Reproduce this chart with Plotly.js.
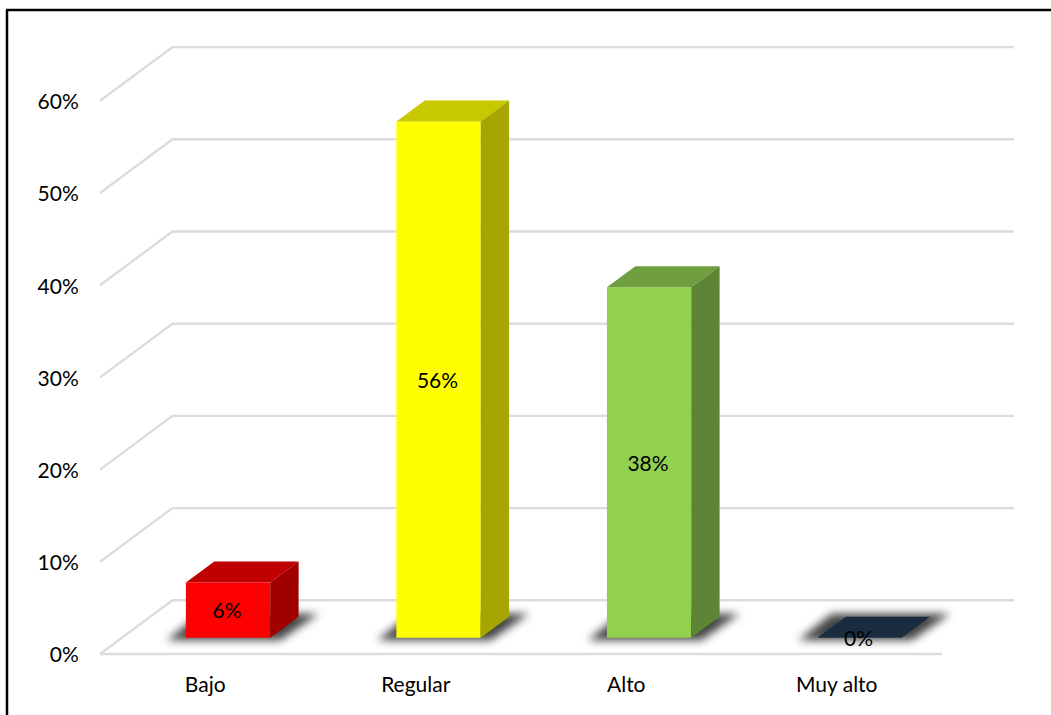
<!DOCTYPE html>
<html>
<head>
<meta charset="utf-8">
<script src="https://cdn.plot.ly/plotly-3.0.1.min.js"></script>
<style>html,body{margin:0;padding:0;background:#fff}</style>
</head>
<body>
<div id="chart" style="width:1051px;height:715px"></div>
<script>
const categories = ['Bajo', 'Regular', 'Alto', 'Muy alto'];
const values = [6, 56, 38, 0];
const valueLabels = ['6%', '56%', '38%', '0%'];
const frontColors = ['#FF0000', '#FFFF00', '#92D050', '#1A2C40'];
const topColors = ['#C00000', '#C8C800', '#6F9E3E', '#1A2C40'];
const sideColors = ['#A00000', '#A6A600', '#5E8535', '#1A2C40'];
const gridValues = [0, 10, 20, 30, 40, 50, 60];
const gridLabels = ['0%', '10%', '20%', '30%', '40%', '50%', '60%'];

// axis geometry (pixels per data unit); the plot area has a small pad so line ends are not clipped
const W = 1051, H = 715, X0 = 100, R = 1016, T = 40, Y0 = 654, PAD = 10;
const L = X0 - PAD, B = Y0 + PAD;
const PX = 210.5, PY = 9.22;
const dx = v => v / PX, dy = v => v / PY;
const centers = categories.map((_, i) => i + 0.5);

const wallX = dx(72.5), wallY = dy(53.7);
const barShiftX = dx(22.8), barShiftY = dy(16.3);
const barW = 84.3 / PX, depthX = dx(28.4), depthY = dy(21);
const nCat = categories.length;
const xEnd = (1014 - X0) / PX;
const xRange = [-dx(PAD), (R - X0) / PX], yRange = [-dy(PAD), (Y0 - T) / PY];

const traces = [];
const none = {hoverinfo: 'skip', showlegend: false};
const grey = {color: '#DCDCDC', width: 2.4};

// floor front edge
traces.push({x: [0, nCat], y: [0, 0], mode: 'lines', line: grey, ...none});
// grid lines: side wall + back wall
gridValues.forEach(g => {
  traces.push({x: [0, wallX, xEnd], y: [g, g + wallY, g + wallY], mode: 'lines', line: grey, ...none});
});
const shadowStart = traces.length;
// soft floor shadows
centers.forEach(c => {
  const xl = c + barShiftX - barW / 2, xr = xl + barW;
  const y0 = barShiftY - dy(2.5), y1 = barShiftY + depthY + dy(3);
  traces.push({
    x: [xl - dx(19), xr + dx(10), xr + depthX + dx(20), xl + depthX - dx(14), xl - dx(19)],
    y: [y0, y0, y1, y1, y0],
    mode: 'lines', line: {width: 0}, fill: 'toself', fillcolor: 'rgba(35,35,35,0.85)', ...none
  });
});
const shadowEnd = traces.length;
// front faces
traces.push({
  type: 'bar', x: centers.map(c => c + barShiftX), y: values, base: barShiftY, width: barW,
  marker: {color: frontColors, line: {width: 0}}, xaxis: 'x2', yaxis: 'y2', ...none
});
// top and side faces
values.forEach((v, i) => {
  const xl = centers[i] + barShiftX - barW / 2, xr = xl + barW;
  const yb = barShiftY, yt = barShiftY + v;
  traces.push({
    x: [xl, xr, xr + depthX, xl + depthX, xl], y: [yt, yt, yt + depthY, yt + depthY, yt],
    mode: 'lines', line: {width: 0}, fill: 'toself', fillcolor: topColors[i], xaxis: 'x2', yaxis: 'y2', ...none
  });
  if (v > 0) traces.push({
    x: [xr, xr + depthX, xr + depthX, xr, xr], y: [yb, yb + depthY, yt + depthY, yt, yb],
    mode: 'lines', line: {width: 0}, fill: 'toself', fillcolor: sideColors[i], xaxis: 'x2', yaxis: 'y2', ...none
  });
});
// value labels
traces.push({
  x: centers.map(c => c + barShiftX - dx(1)), y: values.map(v => barShiftY + v / 2 - dy(3)),
  text: valueLabels, mode: 'text', textposition: 'middle center',
  textfont: {family: 'Lato, sans-serif', size: 21, color: '#000'},
  xaxis: 'x2', yaxis: 'y2', ...none
});

const hidden = {visible: false, fixedrange: true};
const paperX = px => (px - L) / (R - L), paperY = py => (B - py) / (B - T);
const layout = {
  width: W, height: H, showlegend: false,
  paper_bgcolor: '#fff', plot_bgcolor: 'rgba(0,0,0,0)',
  margin: {l: L, r: W - R, t: T, b: H - B, pad: 0},
  font: {family: 'Lato, sans-serif', size: 21, color: '#000'},
  xaxis: {
    range: xRange, tickvals: centers, ticktext: categories, showgrid: false, zeroline: false,
    showline: false, ticks: 'outside', ticklen: 2, tickcolor: 'rgba(0,0,0,0)', fixedrange: true
  },
  yaxis: {
    range: yRange, tickvals: gridValues, ticktext: gridLabels, showgrid: false, zeroline: false,
    showline: false, ticks: 'outside', ticklen: 6, tickcolor: 'rgba(0,0,0,0)', fixedrange: true,
    ticklabelshift: 1
  },
  xaxis2: {...hidden, range: xRange, overlaying: 'x', anchor: 'y2'},
  yaxis2: {...hidden, range: yRange, overlaying: 'y', anchor: 'x2'},
  shapes: [
    {type: 'line', xref: 'paper', yref: 'paper',
     x0: paperX(7), x1: paperX(7), y0: paperY(H), y1: paperY(10),
     line: {color: '#000', width: 2.5}},
    {type: 'line', xref: 'paper', yref: 'paper',
     x0: paperX(6), x1: paperX(W), y0: paperY(10), y1: paperY(10),
     line: {color: '#000', width: 2.5}}
  ]
};
Plotly.newPlot('chart', traces, layout, {displayModeBar: false, staticPlot: true}).then(() => {
  // soften the floor shadows (first subplot's scatter traces, in trace order)
  const nodes = document.querySelectorAll('.cartesianlayer .xy .scatterlayer .trace');
  for (let i = shadowStart; i < shadowEnd; i++) {
    if (nodes[i]) nodes[i].style.filter = 'blur(4px)';
  }
});
</script>
</body>
</html>
